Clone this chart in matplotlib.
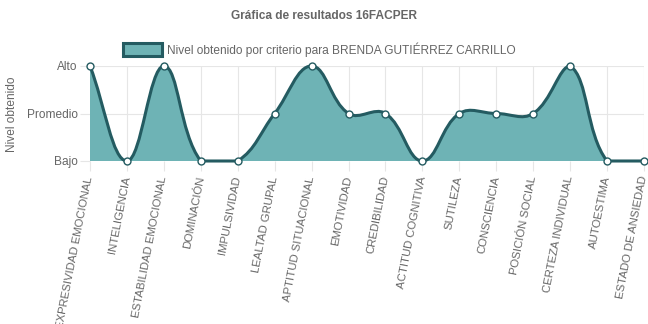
"""Gráfica de resultados 16FACPER."""

import matplotlib

matplotlib.use("Agg")
import matplotlib.pyplot as plt
import numpy as np
from matplotlib.path import Path
from matplotlib.patches import PathPatch, Rectangle

criterios = [
    "EXPRESIVIDAD EMOCIONAL", "INTELIGENCIA", "ESTABILIDAD EMOCIONAL", "DOMINACIÓN",
    "IMPULSIVIDAD", "LEALTAD GRUPAL", "APTITUD SITUACIONAL", "EMOTIVIDAD",
    "CREDIBILIDAD", "ACTITUD COGNITIVA", "SUTILEZA", "CONSCIENCIA",
    "POSICIÓN SOCIAL", "CERTEZA INDIVIDUAL", "AUTOESTIMA", "ESTADO DE ANSIEDAD",
]
niveles = [2, 0, 2, 0, 0, 1, 2, 1, 1, 0, 1, 1, 1, 2, 0, 0]
nombres_nivel = ["Bajo", "Promedio", "Alto"]
serie = "Nivel obtenido por criterio para BRENDA GUTIÉRREZ CARRILLO"

FILL = (0.43, 0.70, 0.71)
LINE = "#245b61"
GREY = "#666666"
GRID = "#e6e6e6"

plt.rcParams["font.family"] = ["Liberation Sans", "DejaVu Sans"]

W, H = 648, 324
fig = plt.figure(figsize=(W / 100, H / 100), dpi=100)
left, right, top, bottom = 90, 644, 66, 161
ax = fig.add_axes([left / W, 1 - bottom / H, (right - left) / W, (bottom - top) / H])

n = len(niveles)
xs = np.arange(n, dtype=float)
ys = np.array(niveles, dtype=float)
ax.set_xlim(0, n - 1)
ax.set_ylim(0, 2)

# spline like Chart.js (tension 0.4), computed in pixel space
sx = (right - left) / (n - 1)
sy = (bottom - top) / 2
px, py = xs * sx, ys * sy
tension = 0.4
cp_prev, cp_next = [], []
for i in range(n):
    p0 = (px[max(i - 1, 0)], py[max(i - 1, 0)])
    p1 = (px[i], py[i])
    p2 = (px[min(i + 1, n - 1)], py[min(i + 1, n - 1)])
    d01 = np.hypot(p1[0] - p0[0], p1[1] - p0[1])
    d12 = np.hypot(p2[0] - p1[0], p2[1] - p1[1])
    tot = d01 + d12
    s01 = d01 / tot if tot else 0
    s12 = d12 / tot if tot else 0
    fa, fb = tension * s01, tension * s12
    a = (p1[0] - fa * (p2[0] - p0[0]), p1[1] - fa * (p2[1] - p0[1]))
    b = (p1[0] + fb * (p2[0] - p0[0]), p1[1] + fb * (p2[1] - p0[1]))
    cap = lambda q: (min(max(q[0], 0), px[-1]) / sx, min(max(q[1], 0), 2 * sy) / sy)
    cp_prev.append(cap(a))
    cp_next.append(cap(b))

verts = [(xs[0], ys[0])]
codes = [Path.MOVETO]
for i in range(n - 1):
    verts += [cp_next[i], cp_prev[i + 1], (xs[i + 1], ys[i + 1])]
    codes += [Path.CURVE4] * 3
line_path = Path(verts, codes)
fill_path = Path(verts + [(xs[-1], 0), (xs[0], 0), (xs[0], ys[0])],
                 codes + [Path.LINETO, Path.LINETO, Path.CLOSEPOLY])

ax.add_patch(PathPatch(fill_path, facecolor=FILL, edgecolor="none", zorder=2))
ax.add_patch(PathPatch(line_path, facecolor="none", edgecolor=LINE, lw=2.2, zorder=3,
                       clip_on=False))
ax.plot(xs, ys, "o", ms=5, mfc="white", mec=LINE, mew=1, zorder=4, clip_on=False)

for s in ax.spines.values():
    s.set_visible(False)
ax.set_xticks(xs)
ax.set_xticklabels(criterios, rotation=79, ha="right", va="center",
                   rotation_mode="anchor", fontsize=8.2, color=GREY)
ax.set_yticks([0, 1, 2])
ax.set_yticklabels(nombres_nivel, fontsize=8.6, color=GREY)
ax.tick_params(axis="both", length=7, width=0.8, color=GRID, pad=2)
ax.tick_params(axis="x", pad=4)
ax.grid(True, color=GRID, lw=0.8)
ax.set_axisbelow(True)

fig.text(12 / W, 1 - 114 / H, "Nivel obtenido", rotation=90, ha="center", va="center",
         fontsize=8.6, color=GREY)
fig.text(0.5, 1 - 16 / H, "Gráfica de resultados 16FACPER", ha="center", va="center",
         fontsize=8.6, fontweight="bold", color=GREY)
fig.patches.append(Rectangle((123 / W, 1 - 56 / H), 39 / W, 13 / H, transform=fig.transFigure,
                             facecolor=FILL, edgecolor=LINE, lw=2.2))
fig.text(167 / W, 1 - 49.5 / H, serie, ha="left", va="center", fontsize=8.6, color=GREY)

fig.savefig("out.png", dpi=100)
